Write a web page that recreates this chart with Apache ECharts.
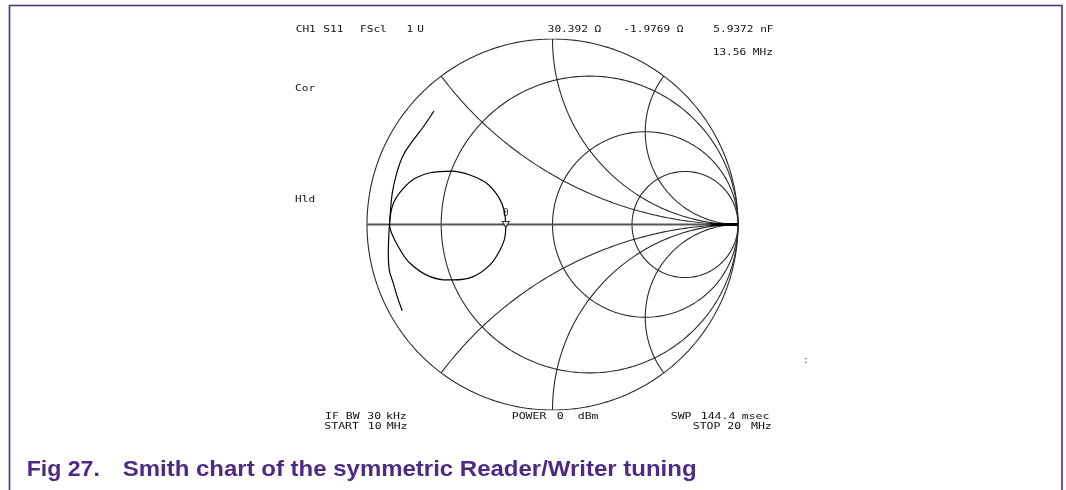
<!DOCTYPE html>
<html>
<head>
<meta charset="utf-8">
<script src="https://cdn.jsdelivr.net/npm/echarts@6/dist/echarts.min.js"></script>
<style>
html,body{margin:0;padding:0;background:#fff;}
#c{width:1066px;height:490px;}
</style>
</head>
<body>
<div id="c"></div>
<script>
// ---- Smith chart graticule values (normalized) ----
const gridR = [0, 0.25, 1, 2.5];      // constant-resistance circles
const gridX = [0.5, 1, 2];            // constant-reactance arcs (drawn as +x and -x)

const arcUpperRe = [-0.639, -0.696, -0.750, -0.804, -0.840, -0.864, -0.876, -0.879];
const arcUpperIm = [ 0.612,  0.527,  0.456,  0.375,  0.276,  0.168,  0.042, -0.003];
const loopRe = [-0.879, -0.858, -0.804, -0.741, -0.660, -0.543, -0.445, -0.355, -0.292, -0.261, -0.252, -0.256, -0.283, -0.337, -0.427, -0.535, -0.660, -0.768, -0.831, -0.867, -0.879];
const loopIm = [-0.003,  0.114,  0.195,  0.249,  0.279,  0.288,  0.267,  0.222,  0.150,  0.078, -0.008, -0.066, -0.137, -0.218, -0.281, -0.299, -0.281, -0.209, -0.120, -0.047, -0.003];
const arcLowerRe = [-0.879, -0.885, -0.880, -0.858, -0.837, -0.810];
const arcLowerIm = [-0.003, -0.155, -0.245, -0.317, -0.389, -0.465];
const endRe = [0.849, 1.0];
const endIm = [0.0, 0.0];
const markerGamma = [-0.252, -0.016];   // marker 0 at 13.56 MHz
const startGamma = [0.845, 0.0];

// ---- Annotation texts ----
const headerTexts = ['CH1', 'S11', 'FScl', '1', 'U', '30.392 Ω', '-1.9769 Ω', '5.9372 nF', '13.56 MHz', 'Cor', 'Hld'];
const footerTexts = ['IF BW', '30', 'kHz', 'START', '10', 'MHz', 'POWER', '0', 'dBm', 'SWP', '144.4', 'msec', 'STOP', '20', 'MHz'];
const captionTexts = ['Fig 27.', 'Smith chart of the symmetric Reader/Writer tuning'];

function zip(a, b) { return a.map((v, i) => [v, b[i]]); }

function resistanceCircle(r) {
  const c = r / (1 + r), R = 1 / (1 + r), pts = [];
  for (let i = 0; i <= 360; i++) {
    const t = i * Math.PI / 180;
    pts.push([c + R * Math.cos(t), R * Math.sin(t)]);
  }
  return pts;
}
function reactanceArc(x) {
  const pts = [];
  for (let i = 0; i <= 400; i++) {
    const phi = i / 400 * Math.PI / 2;
    if (i === 400) { pts.push([1, 0]); break; }
    const r = Math.tan(phi);
    const den = (r + 1) * (r + 1) + x * x;
    pts.push([(r * r + x * x - 1) / den, 2 * x / den]);
  }
  return pts;
}

const gridColor = '#2a2a2a';
const series = [];
gridR.forEach(r => series.push({
  type: 'line', data: resistanceCircle(r), showSymbol: false, silent: true,
  lineStyle: { color: gridColor, width: 1.1 }, z: 1
}));
gridX.forEach(x => {
  [x, -x].forEach(v => series.push({
    type: 'line', data: reactanceArc(v), showSymbol: false, silent: true,
    lineStyle: { color: gridColor, width: 1.1 }, z: 1
  }));
});
// real axis
series.push({
  type: 'line', data: [[-1, 0], [1, 0]], showSymbol: false, silent: true,
  lineStyle: { color: '#555', width: 1.8 }, z: 1
});
// trace
const traceStyle = { color: '#000', width: 1.2 };
[[arcUpperRe, arcUpperIm], [loopRe, loopIm], [arcLowerRe, arcLowerIm]].forEach(([re, im]) => series.push({
  type: 'line', data: zip(re, im), smooth: 0.4, showSymbol: false, silent: true,
  lineStyle: traceStyle, z: 3
}));
series.push({
  type: 'line', data: zip(endRe, endIm), showSymbol: false, silent: true,
  lineStyle: { color: '#000', width: 3 }, z: 3
});
series.push({
  type: 'scatter', data: [startGamma], symbol: 'triangle', symbolRotate: -90, symbolSize: 6,
  itemStyle: { color: '#444' }, silent: true, z: 4
});
series.push({
  type: 'scatter', data: [markerGamma], symbol: 'triangle', symbolRotate: 180, symbolSize: [7, 6],
  symbolOffset: [0, -3],
  itemStyle: { color: '#fff', borderColor: '#000', borderWidth: 1 }, silent: true, z: 5,
  label: { show: true, formatter: '0', position: 'top', distance: 3, color: '#000', fontSize: 10, fontFamily: 'DejaVu Sans Mono' }
});

function txt(text, x, y, size, sx) {
  return {
    type: 'text', x: x, y: y, scaleX: sx, silent: true,
    style: { text: text, font: size + 'px "DejaVu Sans Mono"', fill: '#111', verticalAlign: 'middle', align: 'left' }
  };
}
const H = headerTexts, F = footerTexts;
const topPos = [[295.7, 30], [323.3, 30], [360, 30], [406.5, 30], [417.3, 30], [547.7, 30], [623.3, 30], [713.3, 30], [712.7, 52.5], [295, 88.3], [295, 200]];
const botPos = [[325, 416.7], [367.3, 416.7], [386, 416.7],
                [324.3, 426.3], [367.7, 426.3], [386.7, 426.3],
                [511.7, 416.7], [556.7, 416.7], [577.7, 416.7],
                [670.7, 416.7], [700.7, 416.7], [741.7, 416.7],
                [692.7, 426.3], [727.3, 426.3], [751, 426.3]];
const graphics = [];
H.forEach((t, i) => graphics.push(txt(t, topPos[i][0], topPos[i][1], 9.5, 1.17)));
F.forEach((t, i) => graphics.push(txt(t, botPos[i][0], botPos[i][1], 9, 1.28)));
graphics.push(txt(':', 803.5, 361, 8, 1));
const purple = '#4e2a84';
graphics.push({
  type: 'rect', silent: true,
  shape: { x: 9.5, y: 5.5, width: 1052.5, height: 520 },
  style: { fill: 'none', stroke: purple, lineWidth: 1.6 }
});
graphics.push({
  type: 'text', x: 26.7, y: 470, scaleX: 1.05, silent: true,
  style: { text: captionTexts[0], font: 'bold 22px "Liberation Sans"', fill: purple, verticalAlign: 'middle' }
});
graphics.push({
  type: 'text', x: 122.7, y: 470, scaleX: 1.09, silent: true,
  style: { text: captionTexts[1], font: 'bold 22px "Liberation Sans"', fill: purple, verticalAlign: 'middle' }
});

const chart = echarts.init(document.getElementById('c'), null, { renderer: 'canvas' });
chart.setOption({
  animation: false,
  backgroundColor: '#fff',
  grid: { left: 367, top: 39, width: 371, height: 371 },
  xAxis: { type: 'value', min: -1, max: 1, show: false },
  yAxis: { type: 'value', min: -1, max: 1, show: false },
  series: series,
  graphic: graphics
});
</script>
</body>
</html>
